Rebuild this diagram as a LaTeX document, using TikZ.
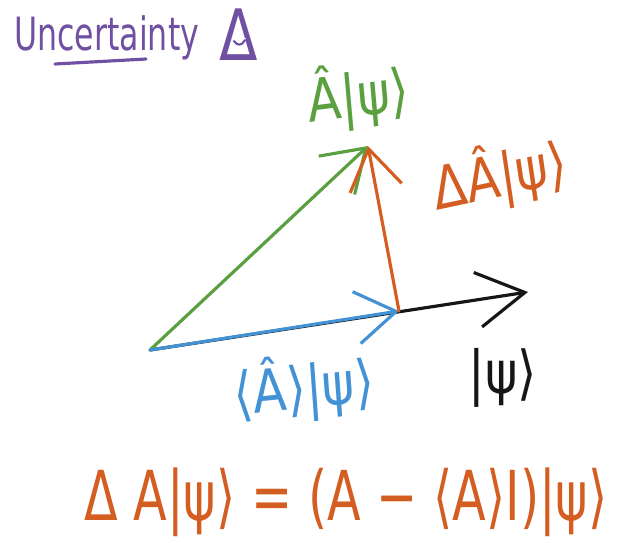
\documentclass[tikz,border=0pt]{standalone}
\usepackage{fontspec}
\setmainfont{DejaVu Sans}
\usetikzlibrary{arrows.meta}
\definecolor{ink}{RGB}{22,22,22}
\definecolor{plum}{RGB}{112,80,162}
\definecolor{leaf}{RGB}{90,160,64}
\definecolor{rust}{RGB}{212,94,34}
\definecolor{sky}{RGB}{68,146,214}

\begin{document}
\begin{tikzpicture}[
  x=0.02cm,y=-0.02cm,
  stroke/.style={line width=1.8pt,line cap=round,line join=round},
  vec/.style={stroke,-{Straight Barb[length=0.8cm,width=1.05cm]}},
  longvec/.style={stroke,-{Straight Barb[length=0.95cm,width=1.1cm]}},
  hand/.style={inner sep=0pt,font=\fontsize{28}{32}\selectfont,yscale=1.2},
  title/.style={inner sep=0pt,font=\fontsize{18}{22}\selectfont,yscale=1.45},
  big/.style={inner sep=0pt,font=\fontsize{28}{32}\selectfont,yscale=1.4},
]
\useasboundingbox (0,0) rectangle (623,542);

% ============================ TITLE ============================
\node[title,text=plum,anchor=base west] (ttl) at (14,50) {Uncertainty};
\draw[stroke,plum] (55,64) -- (146,59);
\node[hand,text=plum,font=\fontsize{32}{36}\selectfont,yscale=1.05] (dlt) at (239,35) {Δ};
\draw[white,line width=1.2pt,line cap=round] (234,40) .. controls (237,45) and (242,45) .. (245,39);
\draw[plum,line width=1.2pt,line cap=round] (234,41) .. controls (237,46) and (242,46) .. (245,40);

% ============================ VECTORS ============================
\coordinate (O)    at (150,350);
\coordinate (psi)  at (528,292);
\coordinate (proj) at (399,311);
\coordinate (Apsi) at (368,146);

\draw[longvec,ink] (O) -- (psi);
\draw[vec,leaf] (O) -- (Apsi);
\draw[vec,sky] (O) -- (proj);
\draw[vec,rust] (proj) -- (Apsi);

% ---- labels ----
\node[hand,text=leaf,rotate=6] (lApsi) at (358,96) {Â|ψ⟩};
\node[hand,text=rust,rotate=10] (ldA) at (500,176) {ΔÂ|ψ⟩};
\node[hand,text=sky,rotate=5] (lproj) at (304,388) {⟨Â⟩|ψ⟩};
\node[hand,text=ink] (lpsi) at (503,378) {|ψ⟩};

% ============================ DEFINITION ============================
\node[big,text=rust] (eq) at (346,502) {Δ A|ψ⟩ = (A − ⟨A⟩I)|ψ⟩};

\end{tikzpicture}
\end{document}
